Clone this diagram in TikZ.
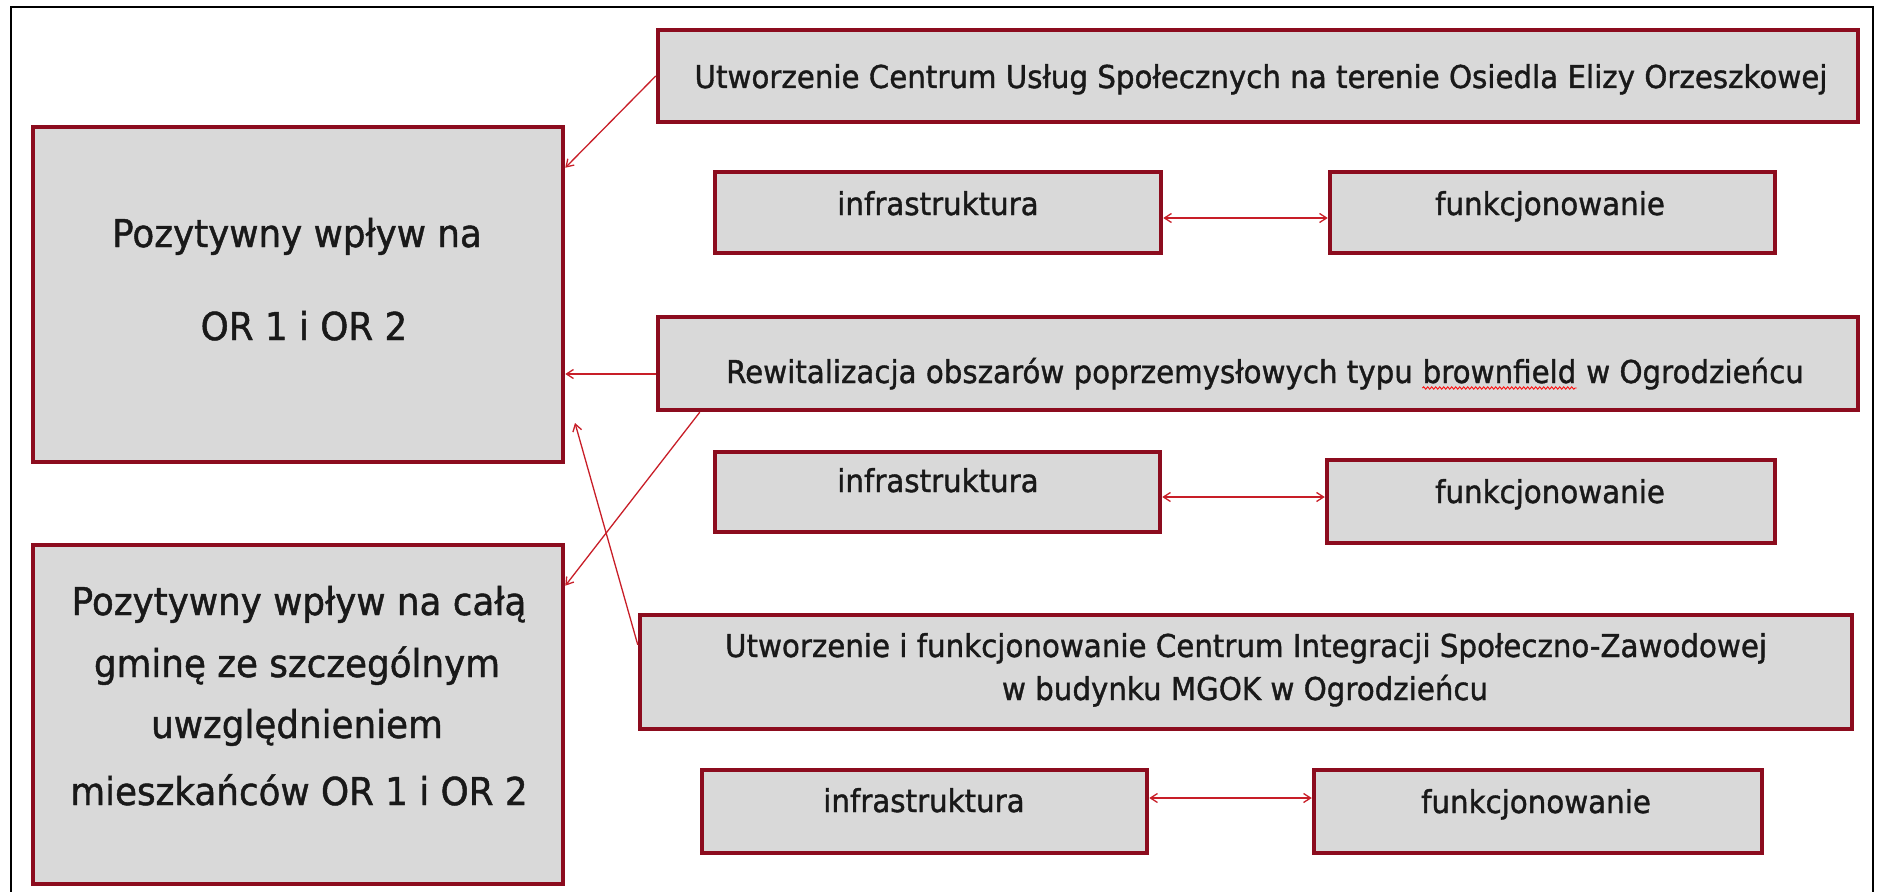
\documentclass[tikz,border=0pt]{standalone}
\usepackage{fontspec}
\setmainfont{DejaVu Sans}[FakeStretch=0.93,FakeBold=1.2]
\usetikzlibrary{arrows.meta,calc,decorations.pathmorphing}
\definecolor{boxborder}{RGB}{140,12,30}
\definecolor{boxfill}{RGB}{217,217,217}
\definecolor{arrred}{RGB}{200,30,40}
\tikzset{
  box/.style={draw=boxborder, line width=4.5pt, fill=boxfill, inner sep=0pt, rectangle},
  smalltxt/.style={anchor=base, inner sep=0pt, text=black!90, font=\fontsize{31.5}{38}\selectfont},
  bigtxt/.style={anchor=base, inner sep=0pt, text=black!90, font=\fontsize{38.4}{46}\selectfont},
  arr/.style={draw=arrred, line width=1.3pt, -{Straight Barb[length=7pt,width=9pt]}},
  biarr/.style={draw=arrred, line width=1.3pt, {Straight Barb[length=7pt,width=9pt]}-{Straight Barb[length=7pt,width=9pt]}},
  frame/.style={draw=black, line width=2.5pt},
  wavy/.style={draw=red, line width=0.8pt, decorate, decoration={snake, amplitude=1.2pt, segment length=4pt}}
}
\newcommand{\wavyword}[1]{\tikz[baseline=(ww.base),x=1cm,y=1cm]{\node[inner sep=0pt,anchor=base] (ww) {#1};\draw[wavy] ([yshift=-5pt]ww.base west) -- ([yshift=-5pt]ww.base east);}}
\begin{document}
\begin{tikzpicture}[x=1pt,y=-1pt]
\useasboundingbox (0,0) rectangle (1881,891);
\draw[frame] (11,7) rectangle (1873,910);

% boxes
\node[box, minimum width=1200pt, minimum height=92pt] (T1) at (1258,76) {};
\node[box, minimum width=446pt, minimum height=81pt] (I1) at (938,212.5) {};
\node[box, minimum width=445pt, minimum height=81pt] (F1) at (1552.5,212.5) {};
\node[box, minimum width=1200pt, minimum height=93pt] (T2) at (1258,363.5) {};
\node[box, minimum width=445pt, minimum height=80pt] (I2) at (937.5,492) {};
\node[box, minimum width=448pt, minimum height=83pt] (F2) at (1551,501.5) {};
\node[box, minimum width=1212pt, minimum height=114pt] (T3) at (1246,672) {};
\node[box, minimum width=445pt, minimum height=83pt] (I3) at (924.5,811.5) {};
\node[box, minimum width=448pt, minimum height=83pt] (F3) at (1538,811.5) {};
\node[box, minimum width=530pt, minimum height=335pt] (L1) at (298,294.5) {};
\node[box, minimum width=530pt, minimum height=339pt] (L2) at (298,714.5) {};

% texts
\node[smalltxt] (T1t) at (1261,88) {Utworzenie Centrum Usług Społecznych na terenie Osiedla Elizy Orzeszkowej};
\node[smalltxt] (I1t) at (938,215) {infrastruktura};
\node[smalltxt] (F1t) at (1550,215) {funkcjonowanie};
\node[smalltxt] (T2t) at (1265,383) {Rewitalizacja obszarów poprzemysłowych typu \wavyword{brownfield} w Ogrodzieńcu};
\node[smalltxt] (I2t) at (938,492) {infrastruktura};
\node[smalltxt] (F2t) at (1550,503) {funkcjonowanie};
\node[smalltxt] (T3a) at (1246,657) {Utworzenie i funkcjonowanie Centrum Integracji Społeczno-Zawodowej};
\node[smalltxt] (T3b) at (1245,700) {w budynku MGOK w Ogrodzieńcu};
\node[smalltxt] (I3t) at (924,812) {infrastruktura};
\node[smalltxt] (F3t) at (1536,813) {funkcjonowanie};
\node[bigtxt] (L1a) at (297,247) {Pozytywny wpływ na};
\node[bigtxt] (L1b) at (304,340) {OR 1 i OR 2};
\node[bigtxt] (L2a) at (299,615) {Pozytywny wpływ na całą};
\node[bigtxt] (L2b) at (297,677) {gminę ze szczególnym};
\node[bigtxt] (L2c) at (297,738) {uwzględnieniem};
\node[bigtxt] (L2d) at (299,805) {mieszkańców OR 1 i OR 2};

% connectors
\draw[arr] (T1.west) -- ([yshift=-43pt]L1.north east);
\draw[arr] ([yshift=-10.5pt]T2.west) coordinate (a2s) -- (a2s -| L1.east);
\draw[arr] ([xshift=44pt]T2.south west) -- ([yshift=-43pt]L2.north east);
\coordinate (freeend) at (575,423);
\draw[arr] ([yshift=-32pt]T3.north west) -- (freeend);
\draw[biarr] ([yshift=-5.5pt]I1.east) coordinate (b1) -- (b1 -| F1.west);
\draw[biarr] ([yshift=-5pt]I2.east) coordinate (b2) -- (b2 -| F2.west);
\draw[biarr] ([yshift=13.5pt]I3.east) coordinate (b3) -- (b3 -| F3.west);
\end{tikzpicture}
\end{document}
